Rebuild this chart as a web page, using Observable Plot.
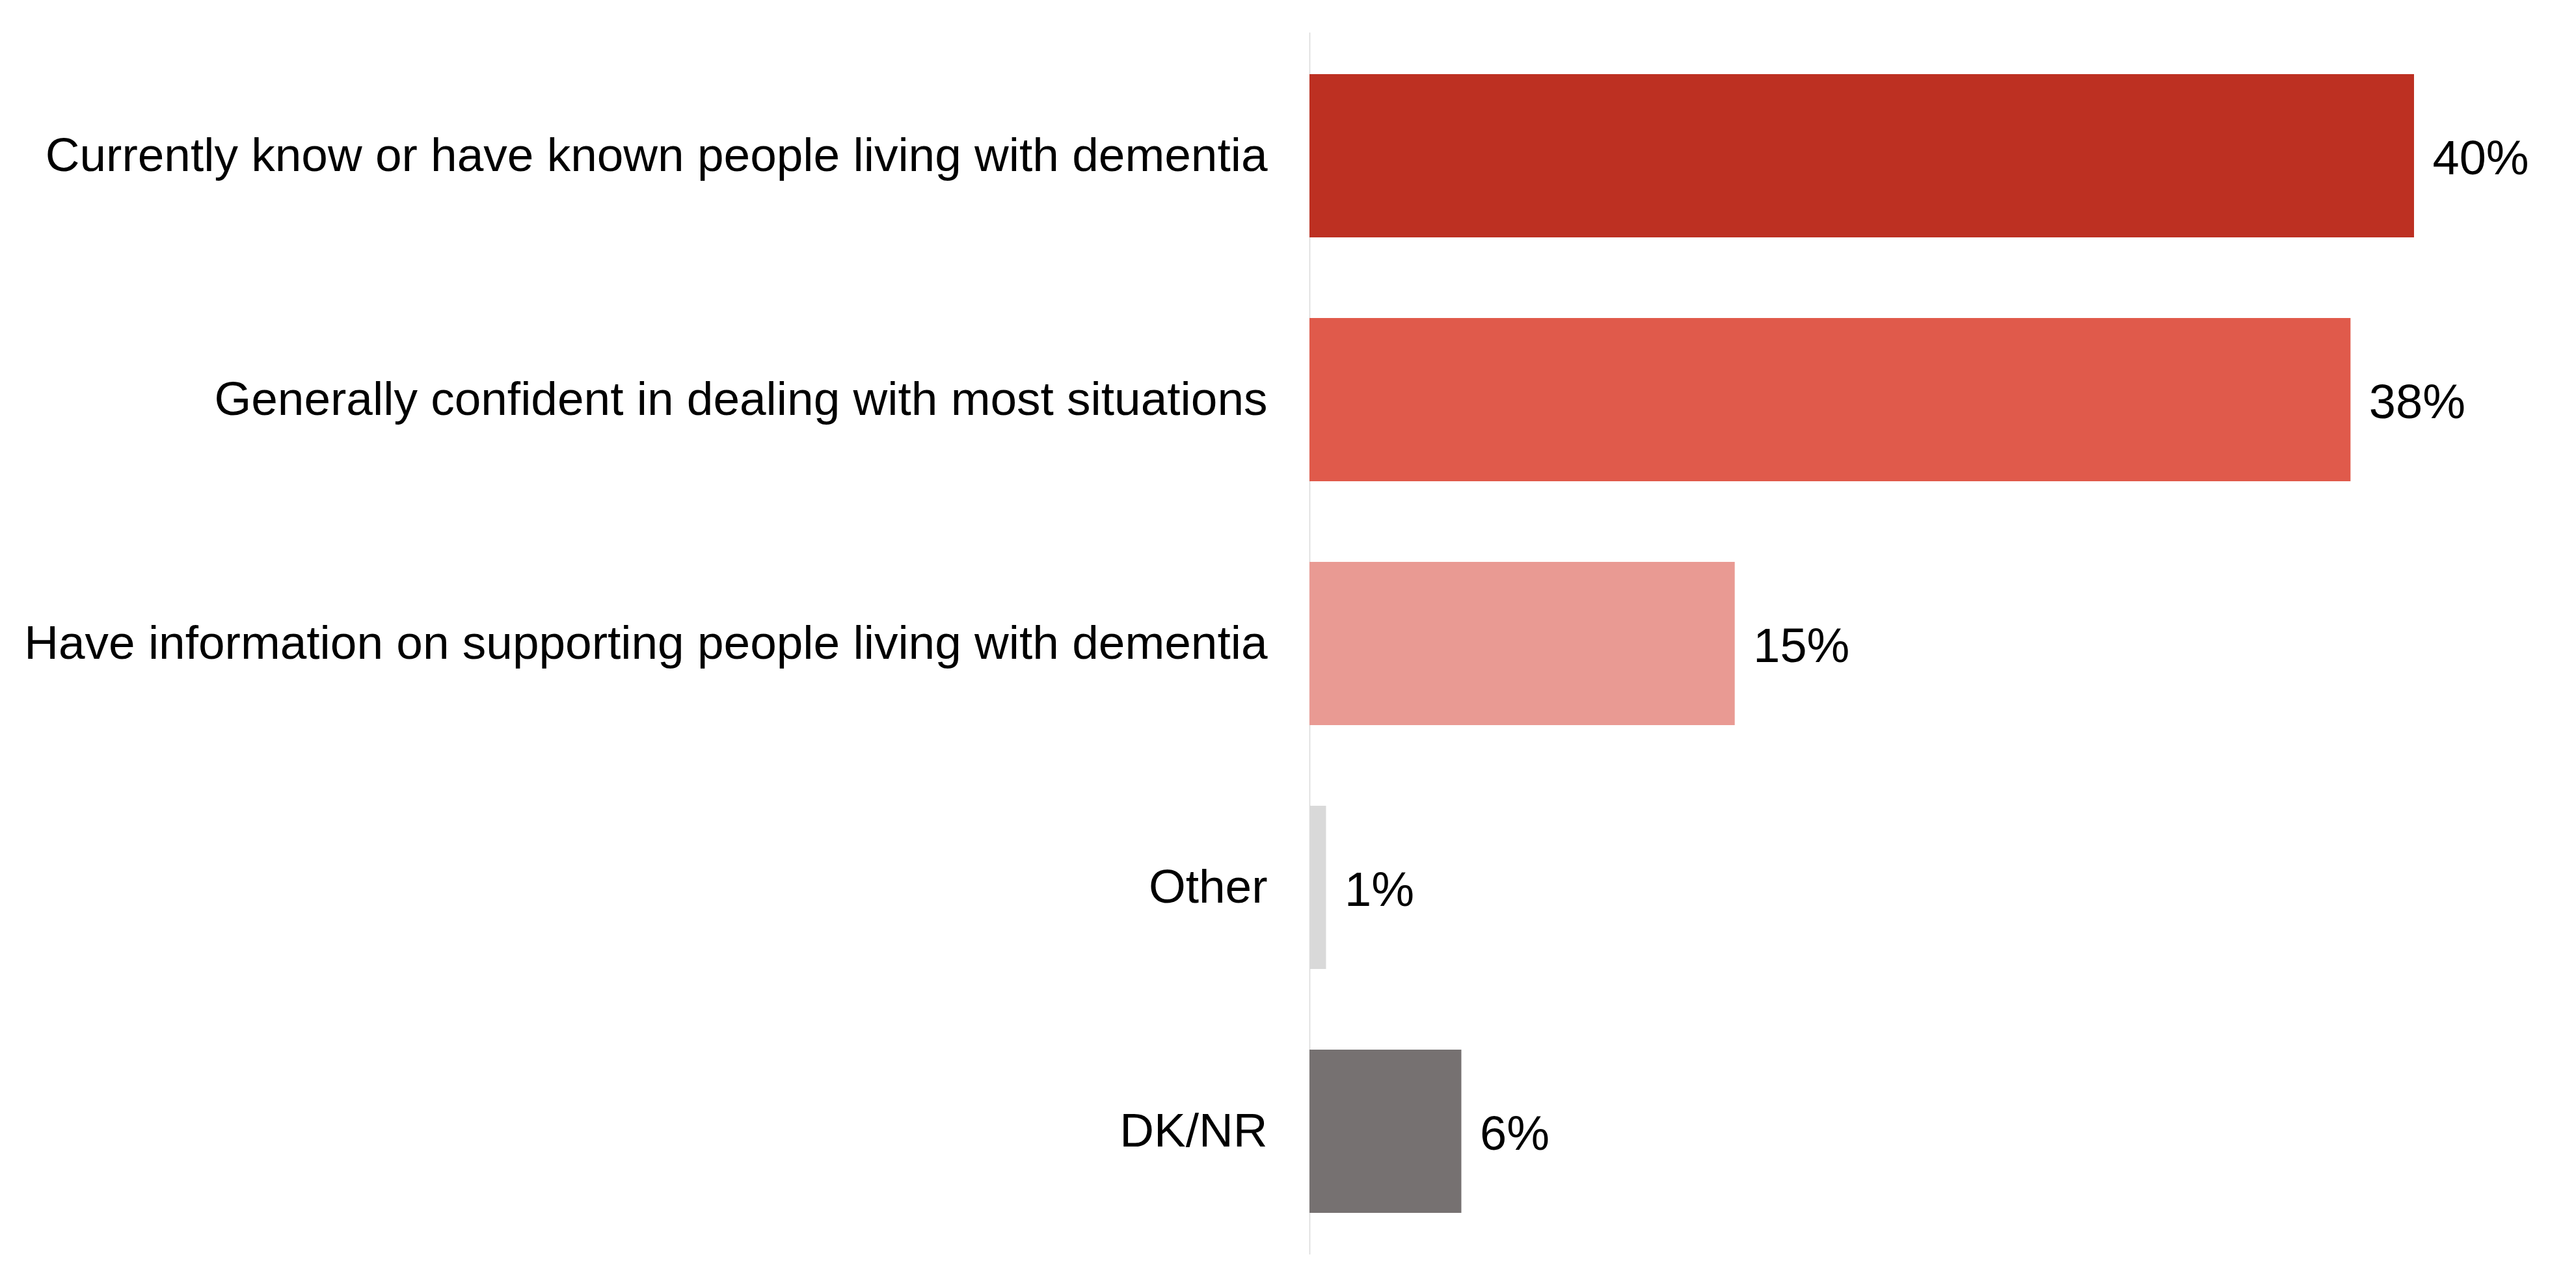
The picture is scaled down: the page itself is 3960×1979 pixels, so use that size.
<!DOCTYPE html>
<html>
<head>
<meta charset="utf-8">
<script src="https://cdn.jsdelivr.net/npm/d3@7"></script>
<script src="https://cdn.jsdelivr.net/npm/@observablehq/plot@0.6"></script>
<style>
  html, body { margin: 0; padding: 0; background: #ffffff; }
  #chart { width: 3960px; height: 1979px; }
</style>
</head>
<body>
<div id="chart"></div>
<script>
const categories = [
  "Currently know or have known people living with dementia",
  "Generally confident in dealing with most situations",
  "Have information on supporting people living with dementia",
  "Other",
  "DK/NR"
];
const values = [40.0, 37.7, 15.4, 0.6, 5.5];
const palette = ["#BD3022", "#E05A4B", "#E99A93", "#D9D9D9", "#767171"];

const data = categories.map((c, i) => ({ category: c, value: values[i] }));

const chart = Plot.plot({
  width: 3960,
  height: 1979,
  marginLeft: 2013,
  marginRight: 249,
  marginTop: 50,
  marginBottom: 50,
  style: {
    fontFamily: "'Liberation Sans', Arial, sans-serif",
    fontSize: "73px",
    color: "#000000",
    background: "#ffffff"
  },
  x: { domain: [0, 40], axis: null },
  y: { domain: categories, paddingInner: 0.33, paddingOuter: 0.165, label: null, tickSize: 0, tickPadding: 65 },
  color: { domain: categories, range: palette },
  marks: [
    Plot.ruleX([0], { stroke: "#d9d9d9", strokeWidth: 1.5 }),
    Plot.barX(data, { x: "value", y: "category", fill: "category" }),
    Plot.text(data, {
      x: "value",
      y: "category",
      text: d => Math.round(d.value) + "%",
      textAnchor: "start",
      dx: 28,
      dy: 4,
      fontSize: 74,
      fill: "#000000"
    })
  ]
});
document.getElementById("chart").appendChild(chart);
</script>
</body>
</html>
